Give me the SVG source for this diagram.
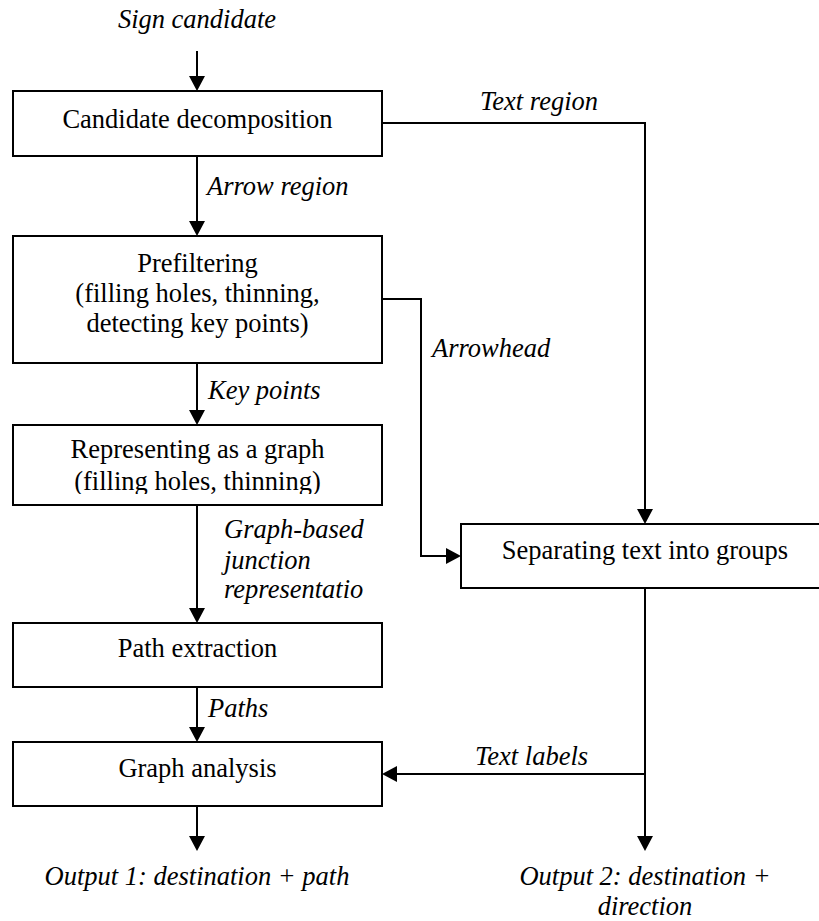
<svg xmlns="http://www.w3.org/2000/svg" width="819" height="921" viewBox="0 0 819 921">
<style>
  text { font-family: 'Liberation Serif', 'Times New Roman', Times, 'DejaVu Serif', serif; font-size: 26.5px; fill: #000; }
  .n { text-anchor: middle; }
  .i { font-style: italic; }
  .box { fill: #fff; stroke: #000; stroke-width: 2; }
  .c { fill: none; stroke: #000; stroke-width: 2; marker-end: url(#ah); }
</style>
<defs>
  <marker id="ah" markerUnits="userSpaceOnUse" markerWidth="15" markerHeight="16" refX="5" refY="8" orient="auto" overflow="visible">
    <path d="M0,0 L15,8 L0,16 z" fill="#000"/>
  </marker>
  <clipPath id="clip3"><rect x="0" y="425" width="400" height="69"/></clipPath>
</defs>
<rect width="819" height="921" fill="#fff"/>

<g id="connectors">
  <path class="c" d="M197,51 V81"/>
  <path class="c" d="M197,156 V226"/>
  <path class="c" d="M382,123 H645 V514"/>
  <path class="c" d="M382,299 H421 V556 H451"/>
  <path class="c" d="M197,363 V415"/>
  <path class="c" d="M197,505 V613"/>
  <path class="c" d="M197,687 V732"/>
  <path class="c" d="M645,588 V841"/>
  <path class="c" d="M645,774 H392"/>
  <path class="c" d="M197,806 V841"/>
</g>

<g id="labels">
  <text class="i n" x="197" y="28">Sign candidate</text>
  <text class="i" x="480" y="110">Text region</text>
  <text class="i" x="207" y="195">Arrow region</text>
  <text class="i" x="432" y="357">Arrowhead</text>
  <text class="i" x="208" y="399">Key points</text>
  <text class="i" x="224" y="538">Graph-based</text>
  <text class="i" x="224" y="569">junction</text>
  <text class="i" x="224" y="598">representatio</text>
  <text class="i" x="208" y="717">Paths</text>
  <text class="i" x="475" y="765">Text labels</text>
  <text class="i n" x="197" y="885">Output 1: destination + path</text>
  <text class="i n" x="645" y="885">Output 2: destination +</text>
  <text class="i n" x="645" y="915">direction</text>
</g>

<g id="candidate-decomposition">
  <rect class="box" x="13" y="91" width="369" height="65"/>
  <text class="n" x="197.5" y="128">Candidate decomposition</text>
</g>

<g id="prefiltering">
  <rect class="box" x="13" y="236" width="369" height="127"/>
  <text class="n" x="197.5" y="272">Prefiltering</text>
  <text class="n" x="197.5" y="302">(filling holes, thinning,</text>
  <text class="n" x="197.5" y="332">detecting key points)</text>
</g>

<g id="representing-graph">
  <rect class="box" x="13" y="425" width="369" height="80"/>
  <g clip-path="url(#clip3)">
    <text class="n" x="197.5" y="458">Representing as a graph</text>
    <text class="n" x="197.5" y="490">(filling holes, thinning)</text>
  </g>
</g>

<g id="path-extraction">
  <rect class="box" x="13" y="623" width="369" height="64"/>
  <text class="n" x="197.5" y="657">Path extraction</text>
</g>

<g id="graph-analysis">
  <rect class="box" x="13" y="742" width="369" height="64"/>
  <text class="n" x="197.5" y="777">Graph analysis</text>
</g>

<g id="separating-text">
  <rect class="box" x="461" y="524" width="380" height="64"/>
  <text class="n" x="645" y="559">Separating text into groups</text>
</g>
</svg>
